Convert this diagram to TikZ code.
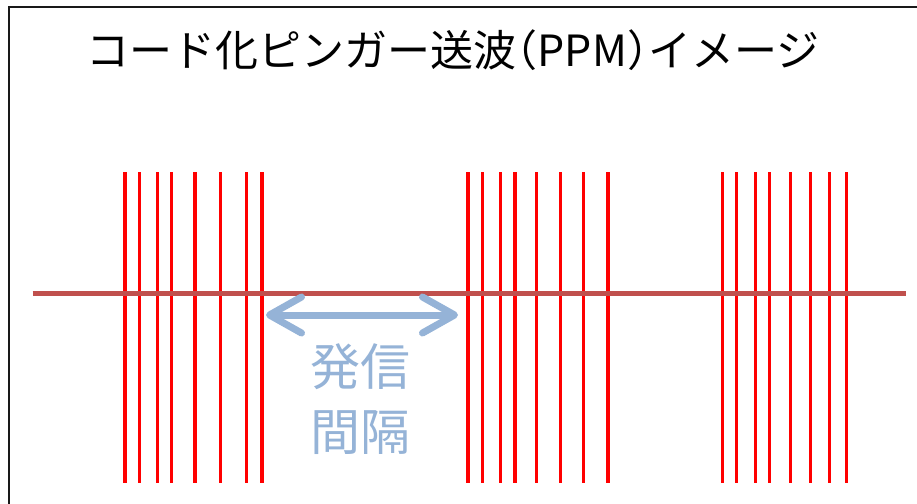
\documentclass[tikz,border=0pt]{standalone}
\usepackage{fontspec}
\setmainfont{Noto Sans CJK JP}
\newfontfamily\cjk{Noto Sans CJK JP}
\newfontfamily\cjkhalt[RawFeature=+halt]{Noto Sans CJK JP}
\usetikzlibrary{arrows.meta}
\definecolor{pulse}{HTML}{FF0000}
\definecolor{axisred}{HTML}{C0504D}
\definecolor{gapblue}{HTML}{95B3D7}
\tikzset{
  pulseline/.style={draw=pulse, line width=3.5pt},
  axisline/.style={draw=axisred, line width=5pt},
  frameline/.style={draw=black!90, line width=2pt},
  gaparrow/.style={draw=gapblue, line width=7pt, line cap=round,
    {Straight Barb[length=32pt,width=36pt,round]}-{Straight Barb[length=32pt,width=36pt,round]}},
  gaptext/.style={text=gapblue, font=\cjk\fontsize{50pt}{65pt}\selectfont, align=center, inner sep=0pt},
  titletext/.style={font=\cjk\fontsize{43pt}{50pt}\selectfont, anchor=west, inner sep=0pt}
}
\begin{document}
\begin{tikzpicture}[x=1pt,y=-1pt]
\useasboundingbox (0,0) rectangle (917,503);
\fill[white] (0,0) rectangle (917,503);
% frame
\draw[frameline] (8.5,504) -- (8.5,6.7) -- (918,6.7);
% title
\node[titletext] (title) at (86,50) {コード化ピンガー送波{\cjkhalt （}PPM{\cjkhalt ）}イメージ};
% pulses
\foreach \x in {125,139.3,157.7,171.7,195,220.7,246.3,262,
                468,482.3,500.7,515,536.3,560.7,583.7,608,
                722.3,736.7,755.3,769.7,790.7,810.7,829.7,846.3}
  \draw[pulseline] (\x,172) -- (\x,483);
% time axis
\coordinate (axL) at (32.7,293);
\coordinate (axR) at (905.7,293);
\draw[axisline] (axL) -- (axR);
% interval arrow
\coordinate (gapL) at (266,315);
\coordinate (gapR) at (458,315);
\draw[gaparrow] (gapL) -- (gapR);
\node[gaptext] (gap) at (360,399) {発信\\間隔};
\end{tikzpicture}
\end{document}
